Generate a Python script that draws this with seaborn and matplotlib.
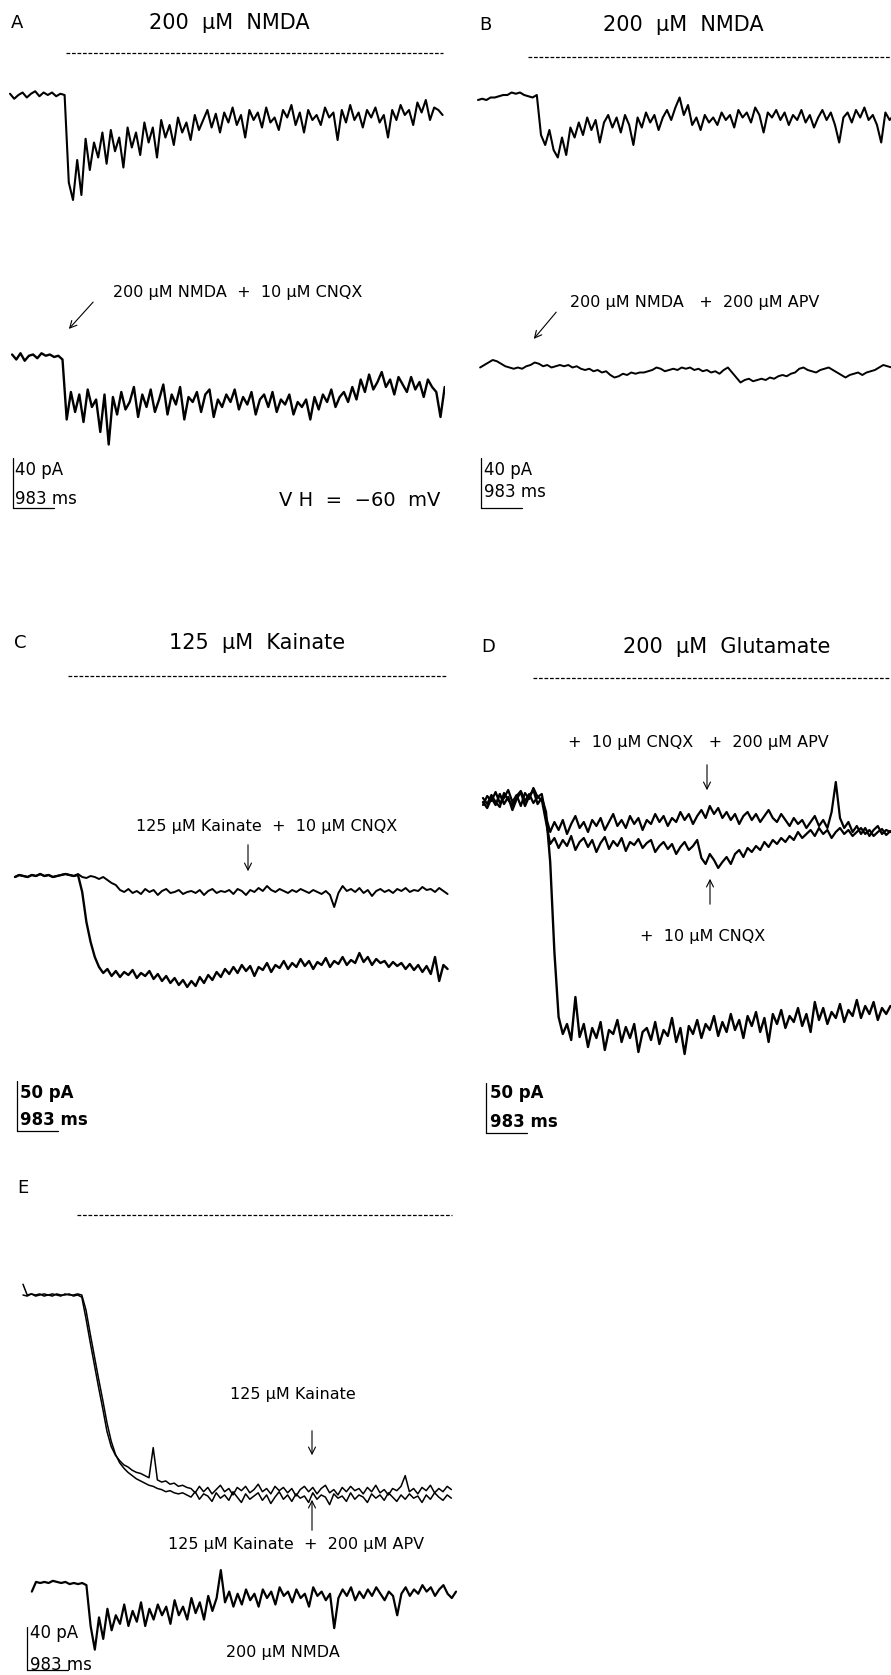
import numpy as np
import matplotlib
matplotlib.use("Agg")
import matplotlib.pyplot as plt
import seaborn as sns

# ---- recorded currents (pA, relative to holding baseline), sampled every 0.1 s ----
DT = 0.1

a_nmda = [1, -3, 0, 2, -2, 1, 3, -1, 2, 0, 2, -1, 1, 0,
          -70, -84, -52, -80, -35, -60, -38, -50, -30, -55, -28, -45, -34, -58, -26, -42,
          -30, -48, -22, -38, -26, -50, -20, -34, -24, -40, -18, -30, -22, -36, -16, -28,
          -20, -12, -26, -15, -30, -14, -22, -10, -24, -16, -34, -12, -20, -14, -26, -10,
          -22, -18, -28, -12, -18, -8, -24, -14, -30, -12, -20, -16, -24, -10, -18, -14,
          -36, -12, -22, -8, -20, -14, -26, -12, -18, -10, -22, -16, -34, -12, -20, -8,
          -16, -12, -24, -6, -14, -4, -20, -10, -12, -16]
a_nmda_cnqx = [2, -2, 3, -3, 1, 2, -1, 3, 1, 2, 0, 1, -2,
               -50, -28, -44, -30, -52, -26, -40, -34, -60, -30,
               -70, -32, -46, -28, -42, -36, -24, -48, -30, -40,
               -26, -44, -34, -22, -46, -30, -38, -24, -50, -32,
               -36, -28, -44, -30, -26, -48, -34, -40, -30, -36,
               -26, -42, -32, -38, -28, -46, -34, -30, -40, -28,
               -44, -34, -38, -30, -46, -36, -40, -34, -50, -32,
               -42, -30, -36, -26, -40, -32, -28, -36, -24, -34,
               -18, -28, -14, -26, -20, -12, -24, -18, -30, -16,
               -22, -28, -16, -26, -20, -32, -18, -24, -28, -48, -24]

b_nmda = [0, 1, 0, 2, 2, 3, 4, 4, 6, 5, 6, 4, 3, 2, 4,
          -28, -36, -24, -40, -46, -30, -44, -22, -30, -18, -28, -14, -24, -16, -34,
          -18, -12, -22, -14, -26, -12, -20, -36, -14, -22, -10, -18, -12, -24, -14,
          -8, -16, -6, 2, -12, -4, -20, -14, -24, -12, -18, -14, -20, -10, -16,
          -12, -22, -8, -14, -10, -18, -6, -12, -26, -10, -14, -8, -16, -10, -20,
          -12, -16, -8, -18, -12, -22, -14, -8, -16, -10, -20, -34, -14, -10, -18,
          -8, -14, -6, -16, -12, -20, -34, -10, -16, -12]
b_nmda_apv = [-2, 0, 2, 4, 3, 1, -1, -2, -3, -2, -3, -1, 0, 2, 1, -1, 0, -2, -1, 0,
              -1, 0, -2, -1, -3, -4, -3, -5, -4, -6, -5, -8, -10, -9, -7, -8, -6, -7, -6, -6,
              -5, -4, -2, -3, -5, -4, -3, -4, -2, -3, -2, -4, -3, -5, -4, -6, -5, -7, -4, -2,
              -6, -10, -14, -12, -11, -13, -12, -11, -12, -10, -11, -9, -8, -9, -7, -6, -3, -2,
              -4, -5, -6, -4, -3, -2, -4, -6, -8, -10, -8, -7, -6, -8, -6, -5, -4, -2, 0, -1, -2]

c_kainate_cnqx = [0, 2, 1, 0, 2, 1, 3, 1, 2, 0, 1, 2, 3, 2, 1, 3,
                  0, -1, 1, 0, -2, 0, -3, -6,
                  -8, -13, -15, -12, -16, -14, -17, -12, -15, -13, -18, -14, -12, -16, -15, -13,
                  -17, -15, -14, -16, -13, -18, -14, -12, -16, -14, -15, -13, -17, -12, -14, -18,
                  -13, -15, -11, -14, -9, -13, -15, -12, -14, -16, -13, -15, -12, -14, -16, -13,
                  -15, -17, -14, -18, -30, -16, -9, -14, -12, -15, -11, -16, -13, -19, -14, -12,
                  -15, -13, -16, -12, -14, -11, -15, -13, -14, -10, -13, -12, -15, -11, -14, -17]
c_kainate = [0, 2, 1, 0, 2, 1, 3, 1, 2, 0, 1, 2, 3, 2, 1, 2,
             -15, -45, -65, -80, -90, -96, -92, -99, -94, -100, -95, -98, -93, -101, -96, -99,
             -94, -102, -97, -104, -99, -106, -101, -108, -103, -110, -104, -109, -100, -106,
             -98, -103, -95, -100, -92, -97, -90, -96, -88, -94, -89, -99, -90, -93, -86, -95,
             -88, -91, -84, -92, -86, -90, -82, -89, -84, -92, -85, -88, -81, -90, -84, -87,
             -80, -88, -83, -86, -76, -85, -80, -88, -82, -86, -84, -90, -85, -89, -86, -92,
             -87, -93, -88, -95, -89, -97, -80, -104, -88, -92]

d_glutamate = [0, -6, 4, -3, 8, -2, 5, -8, 3, 10, -4, 6, 12, -2, 4,
               -10, -60, -150, -215, -232, -222, -238, -195, -235, -222, -245, -226, -236, -220,
               -248, -228, -232, -218, -240, -225, -236, -222, -250, -230, -226, -238, -220,
               -242, -228, -234, -216, -240, -226, -252, -224, -232, -218, -236, -222, -228,
               -214, -234, -220, -230, -212, -228, -218, -236, -214, -224, -210, -230, -216,
               -240, -212, -222, -208, -226, -214, -220, -206, -224, -212, -230, -200, -218,
               -206, -222, -210, -216, -202, -220, -208, -214, -198, -216, -204, -212, -200,
               -218, -206, -212, -204]
d_glutamate_cnqx = [4, -2, 7, 0, -5, 9, 2, -3, 6, 11, 1, 8, -1, 5, 2,
                    -20, -42, -36, -46, -38, -44, -34, -48, -40, -36, -45, -38, -50, -41, -35,
                    -47, -39, -44, -36, -49, -40, -43, -37, -46, -41, -38, -50, -44, -40, -47,
                    -42, -52, -45, -40, -48, -44, -38, -56, -62, -52, -58, -66, -60, -55, -62,
                    -52, -48, -55, -46, -50, -44, -48, -40, -45, -38, -42, -36, -40, -34, -38,
                    -30, -36, -32, -28, -34, -26, -32, -28, -36, -30, -26, -32, -28, -34, -30,
                    -26, -32, -28, -34, -30, -27, -33, -29]
d_glutamate_cnqx_apv = [-3, 6, 1, 10, -1, 4, 12, 0, 7, -4, 9, 3, 14, 5, 8,
                        -15, -30, -20, -28, -18, -32, -22, -14, -26, -20, -30, -18, -24, -16,
                        -28, -20, -12, -24, -18, -26, -14, -22, -16, -28, -18, -22, -12, -20,
                        -14, -24, -16, -20, -10, -18, -12, -22, -14, -8, -16, -4, -12, -6, -16,
                        -10, -18, -12, -22, -14, -10, -18, -12, -20, -14, -8, -16, -20, -12,
                        -18, -24, -16, -22, -18, -26, -20, -14, -24, -18, -26, -10, 20, -16,
                        -26, -20, -30, -24, -32, -26, -34, -28, -24, -32, -28, -30]

e_kainate = [10, 0, 1, -1, 0, 1, 0, -1, 1, 0, 0, 1, -1, 0,
             -2, -22, -44, -65, -86, -106, -127, -141, -149, -154, -158, -160, -163, -165,
             -166, -168, -170, -142, -172, -174, -173, -176, -175, -178, -177, -179,
             -180, -184, -178, -183, -179, -185, -181, -177, -183, -180, -186, -179, -182,
             -178, -184, -181, -176, -183, -180, -185, -178, -182, -179, -184, -180, -187,
             -181, -178, -183, -179, -185, -180, -177, -184, -181, -186, -179, -183, -178,
             -182, -180, -185, -179, -183, -177, -184, -181, -186, -180, -182, -178, -168,
             -183, -180, -185, -179, -182, -177, -184, -180, -183, -178, -181]
e_kainate_apv = [0, -1, 1, 0, 1, -1, 0, 1, 0, -1, 1, 0, 0, 1,
                 0, -14, -36, -57, -78, -98, -119, -136, -148, -156, -161, -165, -168, -171,
                 -173, -175, -177, -178, -180, -181, -183, -182, -184, -185, -184, -186,
                 -188, -183, -190, -185, -187, -192, -184, -189, -186, -191, -183, -188, -193,
                 -185, -190, -187, -184, -191, -186, -194, -188, -183, -190, -186, -192, -185,
                 -189, -187, -193, -184, -190, -186, -188, -195, -185, -189, -187, -192, -184,
                 -190, -186, -188, -193, -185, -189, -186, -191, -184, -188, -192, -186, -190,
                 -185, -189, -187, -193, -186, -190, -184, -188, -191, -186, -189]
e_nmda = [-8, 1, 0, 1, 0, 2, 1, 0, 1, -1, 0, -1, 0, -2,
          -40, -62, -32, -52, -24, -44, -30, -38, -20, -40, -26, -36, -18, -40, -24, -34,
          -20, -30, -22, -38, -16, -30, -22, -34, -14, -28, -18, -34, -12, -26, -14, 12,
          -18, -8, -22, -10, -20, -6, -16, -10, -22, -6, -14, -8, -20, -4, -12, -8, -18,
          -6, -14, -10, -22, -4, -12, -8, -16, -10, -42, -14, -6, -12, -4, -16, -8, -14,
          -6, -12, -4, -10, -16, -8, -12, -30, -10, -4, -12, -6, -10, -2, -8, -4, -12,
          -6, -2, -10, -14, -8]

# drug application periods (s) and scale bars (pA, ms)
app_a = [1.33, 10.31]
app_b = [1.19, 10.6]
app_c = [1.26, 10.29]
app_d = [1.19, 10.0]
app_e = [1.29, 10.21]
scale_pa = [40, 40, 50, 50, 40]
scale_ms = [983, 983, 983, 983, 983]

# ---- layout (reference pixels) ----
W, H = 891, 1675
PX_PER_S = 42.0
FONT = "DejaVu Sans"

sns.set_style("white")
plt.rcParams["font.family"] = ["DejaVu Sans"]
plt.rcParams["text.color"] = "black"
fig = plt.figure(figsize=(W / 100, H / 100), dpi=100)


def panel(box, origin, px_per_pa):
    x0, y0, x1, y1 = box
    ox, oy = origin
    ax = fig.add_axes([x0 / W, 1 - y1 / H, (x1 - x0) / W, (y1 - y0) / H])
    ax.set_xlim((x0 - ox) / PX_PER_S, (x1 - ox) / PX_PER_S)
    ax.set_ylim((oy - y1) / px_per_pa, (oy - y0) / px_per_pa)
    ax.axis("off")
    ax.px = (ox, oy, px_per_pa)
    return ax


def to_data(ax, x, y):
    ox, oy, k = ax.px
    return (x - ox) / PX_PER_S, (oy - y) / k


def trace(ax, vals, t0=0.0, offset=0.0, lw=1.5):
    t = t0 + np.arange(len(vals)) * DT
    sns.lineplot(x=t, y=np.asarray(vals, float) + offset, ax=ax, color="black",
                 lw=lw, estimator=None, sort=False, legend=False)


def application(ax, period, ypx):
    _, level = to_data(ax, 0, ypx)
    ax.plot(period, [level, level], color="black", lw=0.9, ls=(0, (3, 1.4)))


def scalebar(ax, xpx, ypx, pa, ms):
    t, i = to_data(ax, xpx, ypx)
    ax.plot([t, t], [i, i + pa], color="black", lw=0.9)
    ax.plot([t, t + ms / 1000], [i, i], color="black", lw=0.9)


def text(x, y, s, size=11.5, ha="center", **kw):
    fig.text(x / W, 1 - y / H, s, ha=ha, va="center", fontsize=size, family=FONT,
             color="black", **kw)


def arrow(x0, y0, x1, y1):
    fig.add_artist(matplotlib.patches.FancyArrowPatch(
        (x0 / W, 1 - y0 / H), (x1 / W, 1 - y1 / H), transform=fig.transFigure,
        arrowstyle="->,head_length=5,head_width=2.5", color="black", lw=0.8))


# Panel A
axA = panel((0, 40, 445, 530), (10, 95), 1.25)
trace(axA, a_nmda)
trace(axA, a_nmda_cnqx, t0=0.05, offset=(95 - 357) / 1.25, lw=1.7)
application(axA, app_a, 53)
scalebar(axA, 13, 508, scale_pa[0], scale_ms[0])
text(17, 23, "A", size=13)
text(229, 23, "200  μM  NMDA", size=15)
text(238, 293, "200 μM NMDA  +  10 μM CNQX", size=11.5)
arrow(95, 300, 67, 331)
text(15, 470, "40 pA", size=12, ha="left")
text(15, 499, "983 ms", size=12, ha="left")
text(360, 500, "V H  =  −60  mV", size=14)

# Panel B
axB = panel((445, 40, 891, 530), (478, 100), 1.25)
trace(axB, b_nmda)
trace(axB, b_nmda_apv, t0=0.05, offset=(100 - 365) / 1.25, lw=1.4)
application(axB, app_b, 57)
scalebar(axB, 481, 508, scale_pa[1], scale_ms[1])
text(485, 25, "B", size=13)
text(683, 25, "200  μM  NMDA", size=15)
text(695, 303, "200 μM NMDA   +  200 μM APV", size=11.5)
arrow(558, 310, 532, 341)
text(484, 470, "40 pA", size=12, ha="left")
text(484, 492, "983 ms", size=12, ha="left")

# Panel C
axC = panel((0, 660, 450, 1145), (15, 877), 1.0)
trace(axC, c_kainate_cnqx, lw=1.4)
trace(axC, c_kainate, lw=1.7)
application(axC, app_c, 676)
scalebar(axC, 17, 1131, scale_pa[2], scale_ms[2])
text(20, 643, "C", size=13)
text(257, 643, "125  μM  Kainate", size=15)
text(267, 826, "125 μM Kainate  +  10 μM CNQX", size=11.5)
arrow(248, 842, 248, 874)
text(20, 1093, "50 pA", size=12, ha="left", weight="bold")
text(20, 1120, "983 ms", size=12, ha="left", weight="bold")

# Panel D
axD = panel((450, 660, 891, 1145), (483, 802), 1.0)
trace(axD, d_glutamate, lw=1.7)
trace(axD, d_glutamate_cnqx, lw=1.6)
trace(axD, d_glutamate_cnqx_apv, lw=1.6)
application(axD, app_d, 678)
scalebar(axD, 486, 1133, scale_pa[3], scale_ms[3])
text(488, 647, "D", size=13)
text(727, 647, "200  μM  Glutamate", size=15)
text(698, 742, "+  10 μM CNQX   +  200 μM APV", size=11.5)
arrow(707, 762, 707, 793)
text(703, 937, "+  10 μM CNQX", size=11.5)
arrow(710, 907, 710, 876)
text(490, 1093, "50 pA", size=12, ha="left", weight="bold")
text(490, 1122, "983 ms", size=12, ha="left", weight="bold")

# Panel E
axE = panel((0, 1200, 470, 1675), (23, 1295), 1.075)
trace(axE, e_kainate, lw=1.1)
trace(axE, e_kainate_apv, lw=1.1)
trace(axE, e_nmda, t0=0.21, offset=(1295 - 1583) / 1.075, lw=1.6)
application(axE, app_e, 1215)
scalebar(axE, 27, 1670, scale_pa[4], scale_ms[4])
text(23, 1188, "E", size=13)
text(293, 1395, "125 μM Kainate", size=11.5)
arrow(312, 1428, 312, 1458)
arrow(312, 1533, 312, 1497)
text(296, 1545, "125 μM Kainate  +  200 μM APV", size=11.5)
text(283, 1652, "200 μM NMDA", size=11.5)
text(30, 1633, "40 pA", size=12, ha="left")
text(30, 1665, "983 ms", size=12, ha="left")

fig.savefig("out.png", dpi=100, facecolor="white")
